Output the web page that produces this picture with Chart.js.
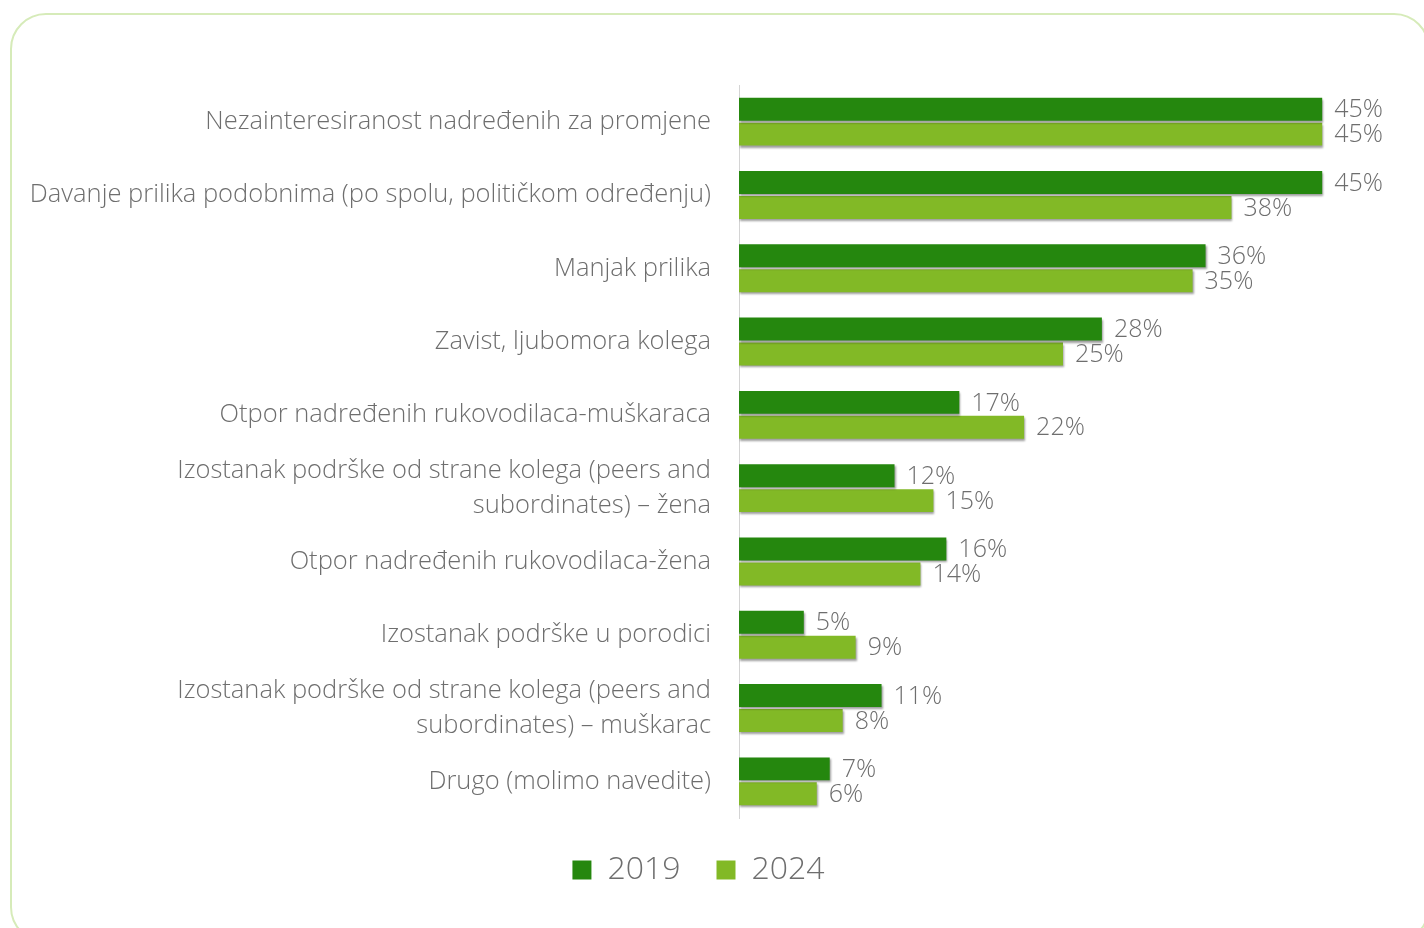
<!DOCTYPE html>
<html>
<head>
    <meta charset="utf-8">
    <title>Prepreke</title>
    <script src="https://cdn.jsdelivr.net/npm/chart.js@4.4.1/dist/chart.umd.min.js"></script>
    <style>
        html, body {
            margin: 0;
            padding: 0;
            width: 1424px;
            height: 928px;
            overflow: hidden;
            background: #ffffff;
        }
        .frame {
            position: absolute;
            left: 10px;
            top: 13px;
            width: 1420px;
            height: 930px;
            border: 2px solid #d6ebb9;
            border-radius: 36px;
            box-sizing: border-box;
        }
        #chartWrap {
            position: absolute;
            left: 0;
            top: 0;
            width: 1424px;
            height: 928px;
        }
    </style>
</head>
<body>
<div class="frame"></div>
<div id="chartWrap">
    <canvas id="barChart" width="1424" height="928"></canvas>
</div>

<script>
    // kategorije (odozgo prema dolje)
    const categories = [
        'Nezainteresiranost nadređenih za promjene',
        'Davanje prilika podobnima (po spolu, političkom određenju)',
        'Manjak prilika',
        'Zavist, ljubomora kolega',
        'Otpor nadređenih rukovodilaca-muškaraca',
        ['Izostanak podrške od strane kolega (peers and', 'subordinates) – žena'],
        'Otpor nadređenih rukovodilaca-žena',
        'Izostanak podrške u porodici',
        ['Izostanak podrške od strane kolega (peers and', 'subordinates) – muškarac'],
        'Drugo (molimo navedite)'
    ];

    // postoci po godinama
    const values2019 = [45, 45, 36, 28, 17, 12, 16, 5, 11, 7];
    const values2024 = [45, 38, 35, 25, 22, 15, 14, 9, 8, 6];

    const seriesNames = ['2019', '2024'];

    const fontFamily = "'Open Sans', 'Noto Sans', sans-serif";
    const textColor = '#6e6e6e';

    // sjena ispod stupaca
    const barShadow = {
        id: 'barShadow',
        beforeDatasetsDraw(chart) {
            const ctx = chart.ctx;
            ctx.save();
            ctx.shadowColor = 'rgba(0, 0, 0, 0.38)';
            ctx.shadowBlur = 2;
            ctx.shadowOffsetX = 1;
            ctx.shadowOffsetY = 2;
        },
        afterDatasetsDraw(chart) {
            chart.ctx.restore();
        }
    };

    // oznake vrijednosti desno od stupaca
    const valueLabels = {
        id: 'valueLabels',
        afterDraw(chart) {
            const ctx = chart.ctx;
            ctx.save();
            ctx.font = '300 25px ' + fontFamily;
            ctx.fillStyle = textColor;
            ctx.textAlign = 'left';
            ctx.textBaseline = 'middle';
            chart.data.datasets.forEach((ds, di) => {
                chart.getDatasetMeta(di).data.forEach((bar, i) => {
                    ctx.fillText(ds.data[i] + '%', bar.x + 12, bar.y + 1);
                });
            });
            ctx.restore();
        }
    };

    const ctx = document.getElementById('barChart').getContext('2d');
    const chart = new Chart(ctx, {
        type: 'bar',
        data: {
            labels: categories,
            datasets: [{
                label: seriesNames[0],
                data: values2019,
                backgroundColor: '#25870e',
                borderWidth: 0,
                categoryPercentage: 0.68,
                barPercentage: 0.92
            }, {
                label: seriesNames[1],
                data: values2024,
                backgroundColor: '#82b926',
                borderWidth: 0,
                categoryPercentage: 0.68,
                barPercentage: 0.92
            }]
        },
        options: {
            indexAxis: 'y',
            responsive: false,
            animation: false,
            layout: {
                padding: { top: 85, right: 37, bottom: 32, left: 10 }
            },
            scales: {
                x: {
                    display: false,
                    min: 0,
                    max: 50
                },
                y: {
                    grid: { display: false, drawTicks: false },
                    border: { display: true, color: '#d4d4d4', width: 1 },
                    ticks: {
                        color: textColor,
                        padding: 28,
                        font: { family: fontFamily, size: 25.5, weight: '300', lineHeight: 1.35 }
                    },
                    afterFit(scale) {
                        scale.width = 729;
                    }
                }
            },
            plugins: {
                legend: {
                    position: 'bottom',
                    labels: {
                        boxWidth: 19,
                        boxHeight: 19,
                        padding: 36,
                        color: textColor,
                        font: { family: fontFamily, size: 32, weight: '300' }
                    }
                },
                tooltip: { enabled: false }
            }
        },
        plugins: [barShadow, valueLabels]
    });
</script>
</body>
</html>
